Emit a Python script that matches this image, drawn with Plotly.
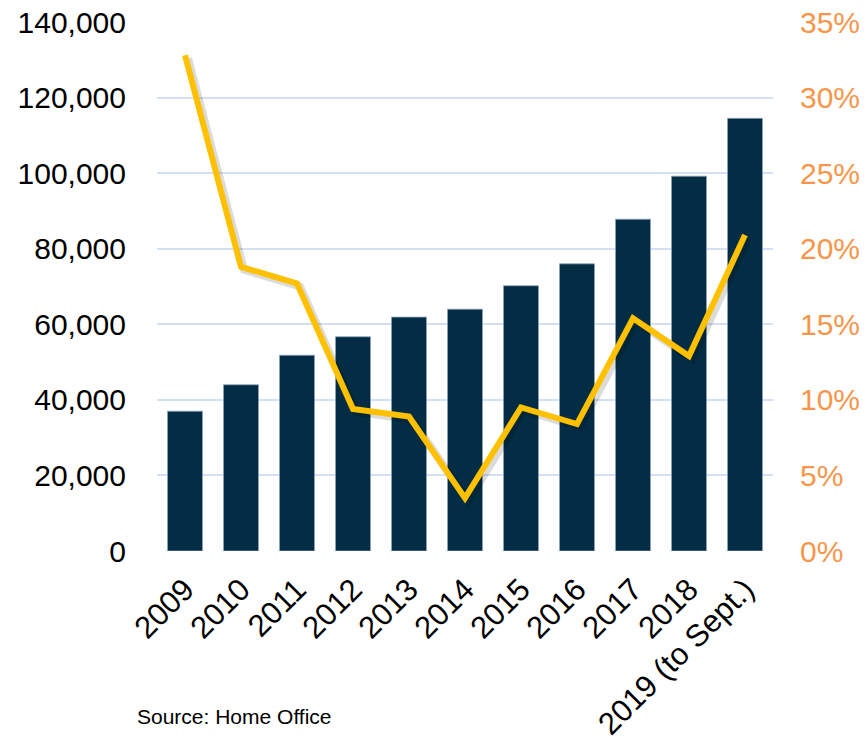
import plotly.graph_objects as go

years = ["2009", "2010", "2011", "2012", "2013", "2014", "2015", "2016",
         "2017", "2018", "2019 (to Sept.)"]
counts = [37000, 44000, 51800, 56700, 61900, 64000, 70200, 76000, 87800, 99200, 114500]
pct = [32.8, 18.8, 17.7, 9.4, 8.9, 3.5, 9.5, 8.4, 15.4, 12.9, 20.9]

left_ticks = [0, 20000, 40000, 60000, 80000, 100000, 120000, 140000]
right_ticks = [0, 5, 10, 15, 20, 25, 30, 35]
right_labels = ["0%", "5%", "10%", "15%", "20%", "25%", "30%", "35%"]

FONT = "Liberation Sans, Arial, sans-serif"
NAVY = "#022D44"
GOLD = "#FFC000"
ORANGE = "#F7964A"
GRID = "#D3E0F3"

# plot area geometry (pixels) used only to offset the shadow by a few pixels
plot_w = 616
plot_h = 529
shx = 3 / plot_w * 11
shy = 3 / plot_h * 35

fig = go.Figure()
fig.add_trace(go.Bar(
    x=years, y=counts, marker=dict(color=NAVY, line=dict(color="#8FA3B5", width=0.8)),
    xaxis="x", yaxis="y", showlegend=False))
# soft shadow of the line (drawn on hidden, slightly shifted axes)
fig.add_trace(go.Scatter(
    x=years, y=pct, mode="lines", xaxis="x2", yaxis="y2",
    line=dict(color="rgba(0,0,0,0.14)", width=8), showlegend=False, hoverinfo="skip"))
fig.add_trace(go.Scatter(
    x=years, y=pct, mode="lines", xaxis="x3", yaxis="y3",
    line=dict(color=GOLD, width=6), showlegend=False))

fig.update_layout(
    width=868, height=741,
    margin=dict(l=157, r=95, t=22, b=190, autoexpand=False),
    paper_bgcolor="white", plot_bgcolor="white",
    bargap=0.375,
    font=dict(family=FONT, size=30, color="black"),
    xaxis=dict(type="category", tickangle=-45, showgrid=False, showline=False,
               zeroline=False, ticks="", tickfont=dict(size=31, color="black"),
               range=[-0.5, 10.5], automargin=False, ticklabelstandoff=13),
    xaxis2=dict(type="category", overlaying="x", visible=False,
                range=[-0.5 - shx, 10.5 - shx]),
    xaxis3=dict(type="category", overlaying="x", visible=False,
                range=[-0.5, 10.5]),
    yaxis=dict(range=[0, 140000], tickvals=left_ticks, tickformat=",d",
               showgrid=True, gridcolor=GRID, gridwidth=1.5, zeroline=False,
               showline=False, ticks="", ticklabelstandoff=30, automargin=False,
               tickfont=dict(size=30, color="black")),
    yaxis2=dict(range=[shy, 35 + shy], overlaying="y", visible=False),
    yaxis3=dict(range=[0, 35], overlaying="y", side="right", anchor="x3",
                tickvals=right_ticks,
                ticktext=right_labels, showgrid=False, zeroline=False, showline=False,
                ticks="", ticklabelstandoff=26, automargin=False,
                tickfont=dict(size=30, color=ORANGE)),
    annotations=[dict(text="Source: Home Office", xref="paper", yref="paper",
                      x=-0.036, y=-0.3137, xanchor="left", yanchor="middle",
                      showarrow=False, font=dict(size=21, color="black", family=FONT))],
)

fig.write_html("out.html", config={"displayModeBar": False},
               post_script="document.body.style.margin='0px';document.body.style.overflow='hidden';")
